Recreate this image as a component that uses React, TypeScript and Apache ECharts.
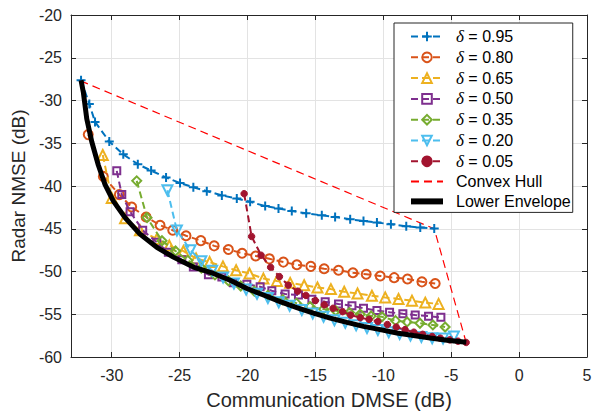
import React, { useEffect, useRef } from 'react';
import * as echarts from 'echarts';

const xTicks = [-30, -25, -20, -15, -10, -5, 0, 5];

const names = ['δ = 0.95', 'δ = 0.80', 'δ = 0.65', 'δ = 0.50', 'δ = 0.35', 'δ = 0.20', 'δ = 0.05', 'Convex Hull', 'Lower Envelope'];
const colors = ['#0072BD', '#D95319', '#EDB120', '#7E2F8E', '#77AC30', '#4DBEEE', '#A2142F', '#FF0000', '#000000'];

const d95: number[][] = [
  [-32.26, -27.63], [-31.65, -30.4], [-31.23, -32.5], [-30.18, -34.8], [-29.15, -36.3], [-28.08, -37.45], [-27.1, -38.2],
  [-26.0, -39.0], [-24.97, -39.65], [-23.99, -40.15], [-23.0, -40.6], [-21.89, -41.1], [-20.79, -41.47], [-19.81, -41.85],
  [-18.7, -42.35], [-17.72, -42.63], [-16.74, -42.92], [-15.68, -43.2], [-14.53, -43.43], [-13.55, -43.62], [-12.44, -43.9],
  [-11.46, -44.08], [-10.47, -44.28], [-9.44, -44.47], [-8.31, -44.71], [-7.28, -44.86], [-6.25, -44.97],
];
const d80: number[][] = [
  [-31.73, -33.99], [-30.62, -38.88], [-29.44, -41.01], [-28.53, -42.46], [-27.47, -43.62], [-26.44, -44.59], [-25.51, -45.17],
  [-24.53, -45.82], [-23.44, -46.39], [-22.46, -47.0], [-21.41, -47.42], [-20.4, -47.86], [-19.4, -48.18], [-18.39, -48.52],
  [-17.36, -48.9], [-16.37, -49.21], [-15.34, -49.4], [-14.36, -49.68], [-13.3, -49.86], [-12.24, -50.14], [-11.26, -50.32],
  [-10.23, -50.52], [-9.2, -50.72], [-8.22, -50.87], [-7.16, -51.21], [-6.18, -51.41],
];
const d65: number[][] = [
  [-30.66, -36.38], [-30.0, -41.39], [-29.02, -43.78], [-27.92, -45.17], [-26.68, -46.21], [-25.76, -46.97], [-24.72, -47.61],
  [-23.79, -48.47], [-22.79, -48.9], [-21.81, -49.4], [-20.84, -49.86], [-19.86, -50.23], [-18.83, -50.83], [-17.84, -51.1],
  [-16.86, -51.33], [-15.83, -51.6], [-14.85, -51.87], [-13.86, -52.06], [-12.88, -52.37], [-11.9, -52.57], [-10.84, -52.83],
  [-9.86, -53.03], [-8.88, -53.21], [-7.89, -53.41], [-6.91, -53.64], [-5.93, -53.79],
];
const d50: number[][] = [
  [-29.63, -38.23], [-29.26, -41.0], [-28.65, -43.0], [-27.72, -45.17], [-26.68, -46.59], [-25.83, -47.75], [-24.84, -48.64],
  [-23.99, -49.48], [-22.88, -50.37], [-21.89, -50.64], [-21.04, -51.33], [-20.05, -51.48], [-19.07, -51.79], [-18.21, -52.25],
  [-17.23, -52.64], [-16.25, -52.75], [-15.26, -53.26], [-14.28, -53.53], [-13.3, -53.79], [-12.31, -54.02], [-11.46, -54.3],
  [-10.47, -54.57], [-9.54, -54.76], [-8.56, -54.95], [-7.65, -55.1], [-6.67, -55.22], [-5.76, -55.36],
];
const d35: number[][] = [
  [-28.16, -39.4], [-27.4, -43.7], [-26.3, -46.4], [-25.3, -47.6], [-24.4, -48.7], [-23.4, -49.6], [-22.4, -50.4],
  [-21.4, -51.1], [-20.5, -51.7], [-19.5, -52.3], [-18.5, -52.8], [-17.4, -53.3], [-16.4, -53.7], [-15.4, -54.1],
  [-14.4, -54.4], [-13.5, -54.6], [-12.5, -54.8], [-11.7, -55.0], [-10.9, -55.2], [-10.1, -55.3], [-9.1, -55.75],
  [-8.25, -55.9], [-7.3, -56.05], [-6.35, -56.25], [-5.45, -56.5],
];
const d20: number[][] = [
  [-25.9, -40.5], [-25.2, -45.2], [-24.2, -47.5], [-23.4, -48.8], [-22.6, -49.9], [-21.8, -50.7], [-21.0, -51.4],
  [-20.1, -52.1], [-19.3, -52.6], [-18.5, -53.1], [-17.7, -53.6], [-16.9, -54.0], [-16.0, -54.5], [-15.2, -54.9],
  [-14.4, -55.3], [-13.6, -55.7], [-12.8, -56.0], [-12.0, -56.3], [-11.2, -56.6], [-10.4, -56.85], [-9.6, -57.1],
  [-8.8, -57.3], [-8.0, -57.5], [-7.2, -57.65], [-6.4, -57.8], [-5.6, -57.85], [-4.8, -57.6],
];
const d05: number[][] = [
  [-20.25, -40.9], [-19.7, -45.9], [-19.0, -48.1], [-18.3, -49.5], [-17.65, -50.6], [-17.0, -51.6], [-16.3, -52.3],
  [-15.7, -52.8], [-15.0, -53.4], [-14.35, -53.9], [-13.7, -54.3], [-13.0, -54.7], [-12.4, -55.1], [-11.7, -55.4],
  [-11.05, -55.6], [-10.4, -55.85], [-9.7, -56.2], [-9.05, -56.5], [-8.4, -56.8], [-7.75, -57.1], [-7.1, -57.35],
  [-6.4, -57.6], [-5.8, -57.8], [-5.1, -58.0], [-4.5, -58.15], [-3.9, -58.3],
];
const hull: number[][] = [[-32.3, -27.7], [-6.25, -45.0], [-3.9, -58.3]];
const envelope: number[][] = [
  [-32.26, -27.63], [-32.09, -29.05], [-31.84, -32.14], [-31.47, -34.83], [-30.99, -37.54], [-30.49, -39.85], [-29.88, -41.77],
  [-29.02, -43.7], [-27.92, -45.63], [-26.68, -47.17], [-25.46, -48.32], [-23.99, -49.48], [-22.51, -50.23], [-21.28, -51.02],
  [-20.05, -51.99], [-18.83, -52.75], [-17.6, -53.53], [-16.37, -54.22], [-15.14, -54.88], [-13.91, -55.46], [-12.68, -55.95],
  [-11.46, -56.42], [-10.23, -56.8], [-9.0, -57.19], [-7.78, -57.49], [-6.54, -57.77], [-5.31, -58.03], [-3.89, -58.27],
];

const FONT = "'Liberation Sans', Helvetica, Arial, sans-serif";
const AXC = '#262626';
const PLUS = 'path://M5,0L5,10M0,5L10,5';
const CLEAR = 'rgba(0,0,0,0)';

function markerSeries(idx: number, data: number[][], symbol: string, size: number, filled: boolean, rotate = 0) {
  const c = colors[idx];
  return {
    name: names[idx],
    type: 'line',
    data,
    symbol,
    symbolSize: size,
    symbolRotate: rotate,
    showSymbol: true,
    color: c,
    lineStyle: { color: c, width: 2, type: [7, 4] },
    itemStyle: { color: filled ? c : CLEAR, borderColor: c, borderWidth: filled ? 1 : 2 },
    emphasis: { disabled: true },
    z: 3 + idx,
  };
}

export default function App() {
  const ref = useRef<HTMLDivElement>(null);
  useEffect(() => {
    if (!ref.current) return;
    const chart = echarts.init(ref.current, undefined, { renderer: 'svg' });
    const axisLine = { show: true, onZero: false, lineStyle: { color: AXC, width: 1 } };
    const axisTick = { show: true, inside: true, length: 5, lineStyle: { color: AXC } };
    chart.setOption({
      animation: false,
      backgroundColor: '#fff',
      grid: { left: 71, right: 11, top: 15, bottom: 54, containLabel: false },
      xAxis: [
        {
          type: 'value',
          min: -33, max: 5,
          position: 'bottom',
          axisLine,
          axisTick: { ...axisTick, customValues: xTicks },
          axisLabel: { customValues: xTicks, color: AXC, fontSize: 16, fontFamily: FONT, margin: 10 },
          splitLine: { show: true, lineStyle: { color: '#e3e3e3', width: 1 } },
          name: 'Communication DMSE (dB)',
          nameLocation: 'middle',
          nameGap: 33,
          nameTextStyle: { color: AXC, fontSize: 20, fontFamily: FONT },
        },
        {
          type: 'value',
          min: -33, max: 5,
          position: 'top',
          axisLine,
          axisTick: { ...axisTick, customValues: xTicks },
          axisLabel: { show: false },
          splitLine: { show: false },
        },
      ],
      yAxis: [
        {
          type: 'value',
          min: -60, max: -20, interval: 5,
          position: 'left',
          axisLine,
          axisTick,
          axisLabel: { color: AXC, fontSize: 16, fontFamily: FONT, margin: 9 },
          splitLine: { show: true, lineStyle: { color: '#e3e3e3', width: 1 } },
          name: 'Radar NMSE (dB)',
          nameLocation: 'middle',
          nameGap: 41,
          nameTextStyle: { color: AXC, fontSize: 19, fontFamily: FONT },
        },
        {
          type: 'value',
          min: -60, max: -20, interval: 5,
          position: 'right',
          axisLine,
          axisTick,
          axisLabel: { show: false },
          splitLine: { show: false },
        },
      ],
      legend: {
        orient: 'vertical',
        left: 394,
        top: 23,
        padding: [5, 2, 3, 14],
        itemWidth: 32,
        itemHeight: 12,
        itemGap: 3.8,
        borderColor: AXC,
        borderWidth: 1,
        borderRadius: 0,
        backgroundColor: '#fff',
        data: names.map((n, i) => (i === 8 ? { name: n, lineStyle: { width: 6 } } : { name: n })),
        formatter: (n: string) => (n.startsWith('δ') ? `{i|δ}${n.slice(1)}` : n),
        textStyle: {
          color: '#000',
          fontSize: 16,
          fontFamily: FONT,
          padding: [0, 0, 0, 8],
          rich: { i: { fontStyle: 'italic', fontSize: 17, fontFamily: "'Liberation Serif', serif", color: '#000' } },
        },
      },
      series: [
        markerSeries(0, d95, PLUS, 9, false),
        markerSeries(1, d80, 'circle', 9, false),
        markerSeries(2, d65, 'triangle', 10, false),
        markerSeries(3, d50, 'rect', 7, false),
        markerSeries(4, d35, 'diamond', 9, false),
        markerSeries(5, d20, 'triangle', 10, false, 180),
        markerSeries(6, d05, 'circle', 6.5, true),
        {
          name: names[7],
          type: 'line',
          data: hull,
          symbol: 'circle',
          showSymbol: false,
          color: colors[7],
          itemStyle: { color: CLEAR, borderColor: CLEAR, borderWidth: 0 },
          lineStyle: { color: colors[7], width: 1.2, type: [8, 5] },
          emphasis: { disabled: true },
          z: 2,
        },
        {
          name: names[8],
          type: 'line',
          data: envelope,
          symbol: 'circle',
          showSymbol: false,
          color: colors[8],
          itemStyle: { color: CLEAR, borderColor: CLEAR, borderWidth: 0 },
          lineStyle: { color: colors[8], width: 5 },
          emphasis: { disabled: true },
          z: 20,
        },
      ],
    });
    return () => chart.dispose();
  }, []);
  return <div ref={ref} style={{ position: 'fixed', left: 0, top: 0, width: 598, height: 415 }} />;
}
